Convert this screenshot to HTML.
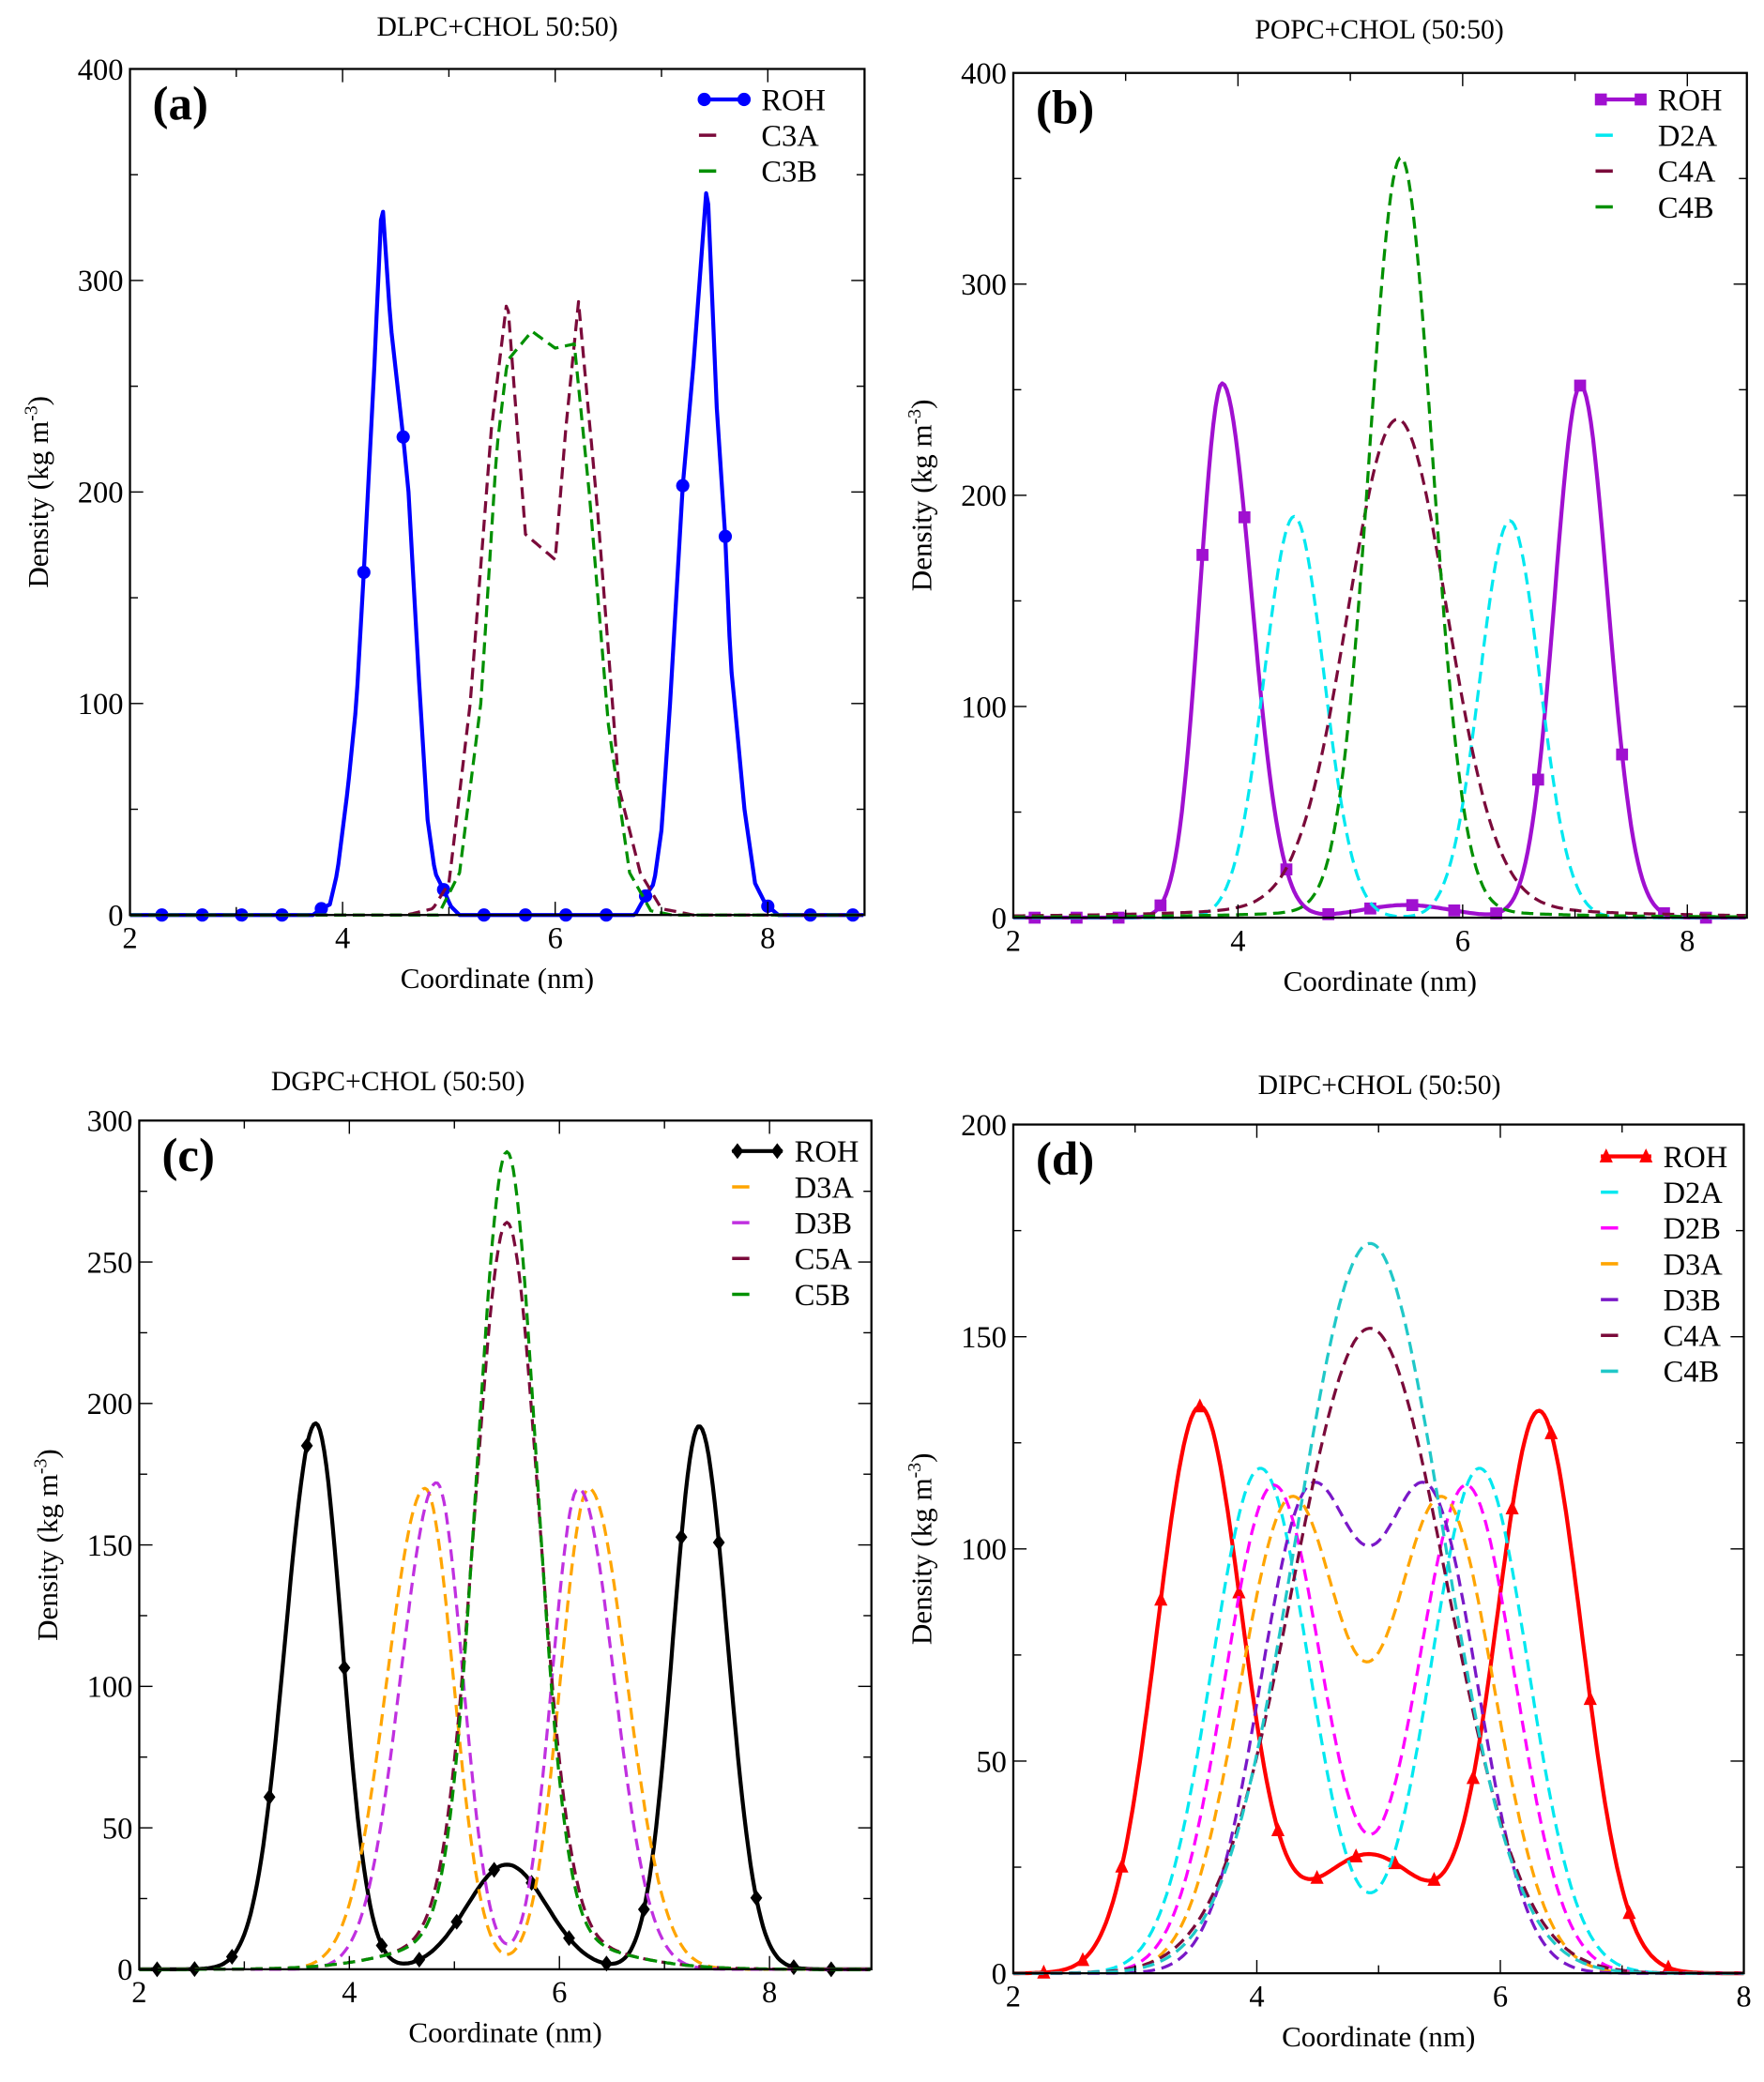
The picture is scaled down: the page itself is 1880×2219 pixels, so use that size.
<!DOCTYPE html>
<html><head><meta charset="utf-8"><style>
html,body{margin:0;padding:0;background:#fff}
svg{display:block}
text{font-family:"Liberation Serif",serif}
</style></head><body>
<svg id="s" width="1880" height="2219" viewBox="0 0 1330 1570" preserveAspectRatio="none" xmlns="http://www.w3.org/2000/svg">
<text x="375" y="27" font-size="21" text-anchor="middle">DLPC+CHOL 50:50)</text>
<text x="1040" y="29" font-size="21" text-anchor="middle">POPC+CHOL (50:50)</text>
<text x="300" y="822" font-size="21" text-anchor="middle">DGPC+CHOL (50:50)</text>
<text x="1040" y="825" font-size="21" text-anchor="middle">DIPC+CHOL (50:50)</text>
</svg>
<script>
const S=document.getElementById('s');const NS='http://www.w3.org/2000/svg';
function el(t,a,txt){const e=document.createElementNS(NS,t);for(const k in a)e.setAttribute(k,a[k]);if(txt!=null)e.textContent=txt;S.appendChild(e);return e;}
function g(x,c,s){return Math.exp(-(x-c)*(x-c)/(2*s*s));}
function ag(x,c,sl,sr){return g(x,c,x<c?sl:sr);}
function lin(pts){return x=>{if(x<=pts[0][0])return pts[0][1];for(let i=1;i<pts.length;i++){if(x<=pts[i][0]){const a=pts[i-1],b=pts[i];return a[1]+(b[1]-a[1])*(x-a[0])/(b[0]-a[0]);}}return pts[pts.length-1][1];};}
function panel(P){
 const X=v=>P.L+(v-P.x0)*P.px, Y=v=>P.B-(v/P.ymax)*(P.B-P.T);
 const R=X(P.xmax);
 P.series.forEach(s=>{
  let d='';for(let x=P.x0;x<=P.xmax+1e-9;x+=0.02){const y=Math.max(0,s.f(x));d+=(d?'L':'M')+X(x).toFixed(1)+','+Y(y).toFixed(1);}
  el('path',{d:d,fill:'none',stroke:s.c,'stroke-width':s.w||2.3,'stroke-dasharray':s.dash?'9,5':'none','stroke-linejoin':'round'});
  if(s.m){s.mx.forEach(x=>{const cx=X(x),cy=Y(Math.max(0,s.f(x)));mk(s.m,cx,cy,s.c);});}
 });
 el('rect',{x:P.L,y:P.T,width:R-P.L,height:P.B-P.T,fill:'none',stroke:'#000','stroke-width':1.6});
 for(let v=P.x0;v<=P.xmax+1e-9;v+=P.xminor){const x=X(v);const maj=Math.abs(v/P.xmaj-Math.round(v/P.xmaj))<1e-6;const l=maj?10:6;
  el('line',{x1:x,y1:P.B,x2:x,y2:P.B-l,stroke:'#000','stroke-width':1});el('line',{x1:x,y1:P.T,x2:x,y2:P.T+l,stroke:'#000','stroke-width':1});
  if(maj)el('text',{x:x,y:P.B+25,'font-size':23,'text-anchor':'middle'},Math.round(v));}
 for(let v=0;v<=P.ymax+1e-9;v+=P.ymaj/2){const y=Y(v);const maj=Math.abs(v/P.ymaj-Math.round(v/P.ymaj))<1e-6;const l=maj?10:6;
  el('line',{x1:P.L,y1:y,x2:P.L+l,y2:y,stroke:'#000','stroke-width':1});el('line',{x1:R,y1:y,x2:R-l,y2:y,stroke:'#000','stroke-width':1});
  if(maj)el('text',{x:P.L-5,y:y+8,'font-size':23,'text-anchor':'end'},v);}
 el('text',{x:(P.L+R)/2,y:P.B+55,'font-size':22,'text-anchor':'middle'},'Coordinate (nm)');
 const cy=(P.T+P.B)/2;const t=el('text',{x:0,y:0,'font-size':22,'text-anchor':'middle',transform:`translate(${P.L-62},${cy}) rotate(-90)`});
 t.innerHTML='Density (kg m<tspan dy="-8" font-size="14">-3</tspan><tspan dy="8">)</tspan>';
 el('text',{x:P.L+17,y:P.T+38,'font-size':36,'font-weight':'bold'},P.lab);
 P.series.forEach((s,i)=>{const y=P.legY+i*27;
  el('line',{x1:P.legX,y1:y,x2:P.legX+38,y2:y,stroke:s.c,'stroke-width':s.w||2.5,'stroke-dasharray':s.dash?'13,25':'none'});
  if(s.m){mk(s.m,P.legX+4,y,s.c);mk(s.m,P.legX+34,y,s.c);}
  el('text',{x:P.legX+47,y:y+8,'font-size':23},s.n);});
}
function mk(m,x,y,c){
 if(m==='o')el('circle',{cx:x,cy:y,r:5,fill:c});
 else if(m==='s')el('rect',{x:x-4.5,y:y-4.5,width:9,height:9,fill:c});
 else if(m==='d')el('polygon',{points:`${x},${y-6} ${x+4.5},${y} ${x},${y+6} ${x-4.5},${y}`,fill:c});
 else if(m==='t')el('polygon',{points:`${x},${y-6} ${x+5},${y+4.5} ${x-5},${y+4.5}`,fill:c});
}
const range=(a,b,st)=>{const r=[];for(let x=a;x<=b+1e-9;x+=st)r.push(x);return r;};
// (a)
panel({L:98,T:52,B:690,x0:2,xmax:8.91,px:80.15,ymax:400,ymaj:100,xmaj:2,xminor:1,lab:'(a)',legX:527,legY:75,
series:[
 {n:'ROH',c:'#0000ff',w:3,m:'o',mx:[2.3,2.68,3.05,3.43,3.8,4.2,4.57,4.95,5.33,5.72,6.1,6.48,6.85,7.2,7.6,8.0,8.4,8.8],
  f:lin([[2,0],[3.72,0],[3.8,3],[3.88,5],[3.95,20],[4.05,60],[4.13,100],[4.2,162],[4.3,260],[4.37,340],[4.45,280],[4.57,226],[4.62,200],[4.72,110],[4.8,45],[4.87,20],[4.95,12],[5.02,4],[5.1,0],[6.75,0],[6.85,9],[6.93,15],[7.0,40],[7.08,100],[7.2,203],[7.3,260],[7.43,348],[7.52,240],[7.6,179],[7.65,120],[7.78,50],[7.88,15],[7.98,5],[8.1,0],[9,0]])},
 {n:'C3A',c:'#7a0a3a',dash:1,f:lin([[2,0],[4.6,0],[4.85,3],[5.0,15],[5.2,100],[5.4,230],[5.55,292],[5.72,180],[6.0,168],[6.1,230],[6.22,290],[6.4,190],[6.6,60],[6.8,20],[7.0,3],[7.3,0],[9,0]])},
 {n:'C3B',c:'#009000',dash:1,f:lin([[2,0],[4.9,0],[5.1,20],[5.3,100],[5.45,220],[5.55,262],[5.78,276],[6.0,268],[6.18,270],[6.32,200],[6.5,90],[6.7,20],[6.9,2],[7.1,0],[9,0]])}
]});
// (b)
panel({L:764,T:55,B:692,x0:2,xmax:8.53,px:84.7,ymax:400,ymaj:100,xmaj:2,xminor:1,lab:'(b)',legX:1203,legY:75,
series:[
 {n:'ROH',c:'#a010d0',w:3,m:'s',mx:range(2.19,8.2,0.3735),f:x=>253*ag(x,3.86,0.2,0.26)+252*ag(x,7.05,0.23,0.24)+6*g(x,5.5,0.4)},
 {n:'D2A',c:'#00e8f0',dash:1,f:x=>190*g(x,4.5,0.265)+188*g(x,6.42,0.265)},
 {n:'C4A',c:'#7a0a3a',dash:1,f:x=>225*g(x,5.42,0.44)+11/(1+Math.pow((x-5.42)/1.0,2))},
 {n:'C4B',c:'#009000',dash:1,f:x=>355*g(x,5.45,0.28)+5/(1+Math.pow((x-5.45)/0.9,2))}
]});
// (c)
panel({L:105,T:845,B:1485,x0:2,xmax:8.97,px:79.2,ymax:300,ymaj:50,xmaj:2,xminor:1,lab:'(c)',legX:552,legY:868,
series:[
 {n:'ROH',c:'#000000',w:3,m:'d',mx:range(2.17,8.7,0.3565),f:x=>193*ag(x,3.68,0.29,0.25)+192*ag(x,7.33,0.25,0.27)+37*g(x,5.5,0.38)},
 {n:'D3A',c:'#ffa500',dash:1,f:x=>170*ag(x,4.72,0.36,0.27)+170*ag(x,6.28,0.27,0.36)},
 {n:'D3B',c:'#c030e0',dash:1,f:x=>172*ag(x,4.83,0.34,0.25)+170*ag(x,6.18,0.25,0.34)},
 {n:'C5A',c:'#7a0a3a',dash:1,f:x=>250*g(x,5.5,0.3)+14*g(x,5.5,0.8)},
 {n:'C5B',c:'#009000',dash:1,f:x=>275*g(x,5.5,0.28)+14*g(x,5.5,0.8)}
]});
// (d)
panel({L:764,T:848,B:1488,x0:2,xmax:8,px:91.8,ymax:200,ymaj:50,xmaj:2,xminor:1,lab:'(d)',legX:1207,legY:872,
series:[
 {n:'ROH',c:'#ff0000',w:3,m:'t',mx:range(2.25,7.7,0.3206),f:x=>133*g(x,3.53,0.35)+132*g(x,6.32,0.35)+28*g(x,4.92,0.5)},
 {n:'D2A',c:'#00e8f0',dash:1,f:x=>119*g(x,4.03,0.4)+119*g(x,5.83,0.4)},
 {n:'D2B',c:'#ff00ff',dash:1,f:x=>115*g(x,4.14,0.4)+115*g(x,5.72,0.4)},
 {n:'D3A',c:'#ffa500',dash:1,f:x=>111*g(x,4.28,0.42)+111*g(x,5.53,0.42)},
 {n:'D3B',c:'#7a18c8',dash:1,f:x=>110*g(x,4.42,0.4)+110*g(x,5.42,0.4)},
 {n:'C4A',c:'#7a0a3a',dash:1,f:x=>152*g(x,4.93,0.63)},
 {n:'C4B',c:'#20c8c8',dash:1,f:x=>172*g(x,4.93,0.6)}
]});
</script>
</body></html>
